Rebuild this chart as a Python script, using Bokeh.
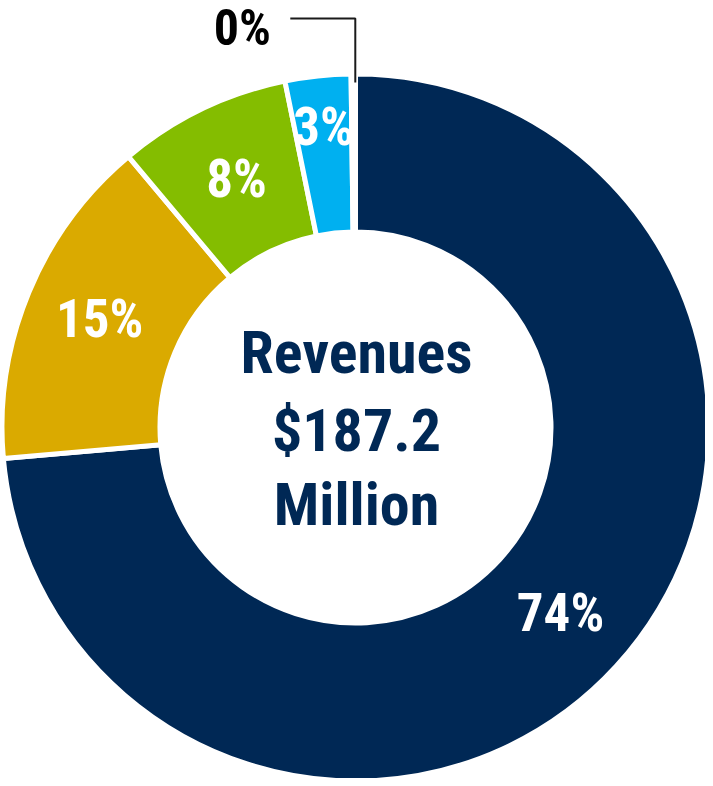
import math
from bokeh.plotting import figure
from bokeh.models import Range1d, ColumnDataSource
from bokeh.core.properties import value
from bokeh.embed import file_html
from bokeh.resources import INLINE

# ---- data ----
categories = ["A", "B", "C", "D", "E"]
shares = [73.6, 15.3, 7.9, 3.0, 0.2]
labels = ["74%", "15%", "8%", "3%", "0%"]
colors = ["#002855", "#DAAA00", "#84BD00", "#00B0F0", "#FFFFFF"]
center_lines = ["Revenues", "$187.2", "Million"]

W, H = 705, 778
FONT = "Roboto Condensed, DejaVu Sans Condensed, sans-serif"

p = figure(width=W, height=H, output_backend="svg", toolbar_location=None,
           x_range=Range1d(0, W), y_range=Range1d(0, H), min_border=0)
p.axis.visible = False
p.grid.visible = False
p.outline_line_color = None
p.background_fill_color = "white"
p.border_fill_color = "white"

cx, cy = 355.0, 351.0
r_out, r_in = 351.0, 198.0
bw = 5

total = sum(shares)
starts, ends, mids = [], [], []
cum = 0.0
for s in shares:
    a0 = math.pi / 2 - 2 * math.pi * cum / total
    cum += s
    a1 = math.pi / 2 - 2 * math.pi * cum / total
    starts.append(a0)
    ends.append(a1)
    mids.append((a0 + a1) / 2)

src = ColumnDataSource(dict(cat=categories, start=starts, end=ends, color=colors))
p.annular_wedge(x=cx, y=cy, inner_radius=r_in - bw / 2, outer_radius=r_out + bw / 2,
                start_angle="start", end_angle="end", direction="clock",
                fill_color="color", line_color="white", line_width=bw, source=src)

# labels inside slices
lab_r = [278, 277, 274, 300]
lx = [cx + lab_r[i] * math.cos(mids[i]) for i in range(4)]
ly = [cy + lab_r[i] * math.sin(mids[i]) + 2 for i in range(4)]
p.text(x=lx, y=ly, text=labels[:4], text_color="white", text_font=value(FONT),
       text_font_style="bold", text_font_size="53px", text_align="center",
       text_baseline="middle")

# 0% leader line
m = mids[4]
x0 = cx + r_out * math.cos(m) + 2
y0 = cy + r_out * math.sin(m) - 6
ytop = H - 18
p.line(x=[x0, x0, x0 - 65], y=[y0, ytop, ytop], line_color="#1a1a1a", line_width=2)
p.text(x=[x0 - 113], y=[H - 27], text=[labels[4]], text_color="black",
       text_font=value(FONT), text_font_style="bold", text_font_size="50px",
       text_align="center", text_baseline="middle")

# center text
p.text(x=[cx + 1] * 3, y=[cy + 75, cy - 3, cy - 77], text=center_lines,
       text_color="#002855", text_font=value(FONT), text_font_style="bold",
       text_font_size="60px", text_align="center", text_baseline="middle")

open("out.html", "w").write(file_html(p, INLINE))
